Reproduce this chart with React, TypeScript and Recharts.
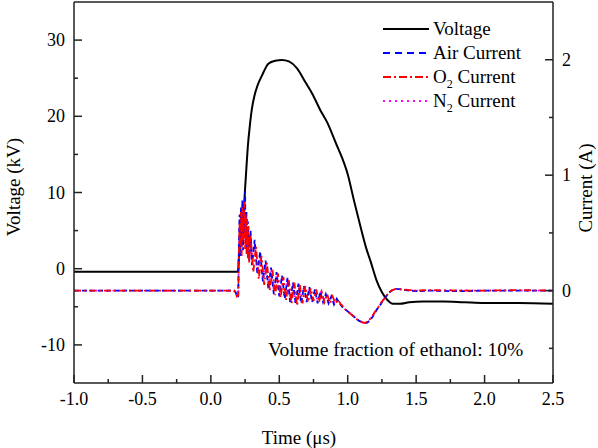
import React from "react";
import { LineChart, Line, XAxis, YAxis, ReferenceLine, Legend } from "recharts";

const FONT = '"Liberation Serif", "Times New Roman", serif';
const AXIS = "#222";

// tick positions (major ones get labels)
const timeTicks = [-1, -0.75, -0.5, -0.25, 0, 0.25, 0.5, 0.75, 1, 1.25, 1.5, 1.75, 2, 2.25, 2.5];
const voltageTicks = [-10, -5, 0, 5, 10, 15, 20, 25, 30];
const currentTicks = [-0.5, 0, 0.5, 1, 1.5, 2];

// [time (us), voltage (kV)]
const voltageKV: [number, number][] = [
  [-1.0, -0.4], [0.19, -0.4], [0.198, -0.4], [0.205, 1.5], [0.22, 4.5], [0.24, 7.5],
  [0.25, 10.5], [0.26, 13.3], [0.27, 16.0], [0.285, 18.8], [0.3, 21.0], [0.32, 22.8],
  [0.34, 24.0], [0.375, 25.4], [0.42, 26.9], [0.47, 27.3], [0.52, 27.4], [0.57, 27.2],
  [0.63, 26.3], [0.69, 24.5], [0.74, 23.0], [0.8, 20.8], [0.85, 19.2], [0.92, 16.2],
  [0.96, 14.5], [1.0, 12.4], [1.045, 9.0], [1.095, 5.4], [1.135, 2.7], [1.17, 0.8],
  [1.21, -1.5], [1.25, -3.1], [1.29, -4.1], [1.33, -4.6], [1.38, -4.6], [1.45, -4.4],
  [1.55, -4.3], [1.7, -4.3], [1.85, -4.4], [2.0, -4.5], [2.25, -4.5], [2.5, -4.6],
];

// [time (us), current (A)]
const airCurrentA: [number, number][] = [
  [-1.0, 0], [0.17, 0], [0.18, -0.01], [0.19, -0.05], [0.2, -0.05],
  [0.205, 0.4], [0.21, 0.66], [0.215, 0.3], [0.22, 0.72], [0.225, 0.42], [0.23, 0.78],
  [0.235, 0.35], [0.24, 0.7], [0.245, 0.5], [0.25, 0.86], [0.255, 0.4], [0.26, 0.68],
  [0.265, 0.32], [0.27, 0.6], [0.28, 0.26], [0.29, 0.52], [0.3, 0.22],
  [0.32, 0.44], [0.34, 0.14], [0.36, 0.34], [0.38, 0.08], [0.4, 0.26], [0.42, 0.02],
  [0.44, 0.2], [0.46, -0.03], [0.48, 0.16], [0.5, -0.05],
  [0.52, 0.13], [0.54, -0.07], [0.56, 0.11], [0.58, -0.1], [0.6, 0.07], [0.62, -0.12],
  [0.64, 0.06], [0.66, -0.11], [0.68, 0.04], [0.7, -0.1],
  [0.72, 0.03], [0.74, -0.1], [0.76, 0.01], [0.78, -0.11], [0.8, -0.01], [0.82, -0.1],
  [0.84, -0.03], [0.86, -0.11], [0.88, -0.05], [0.9, -0.12], [0.92, -0.07], [0.94, -0.11],
  [0.96, -0.14], [0.98, -0.16], [1.0, -0.18], [1.02, -0.2], [1.04, -0.22], [1.06, -0.24],
  [1.08, -0.26], [1.1, -0.27], [1.12, -0.28], [1.14, -0.28], [1.16, -0.26], [1.18, -0.23],
  [1.2, -0.19], [1.22, -0.15], [1.24, -0.12], [1.26, -0.08], [1.28, -0.05], [1.3, -0.02],
  [1.32, 0.0], [1.35, 0.015], [1.4, 0.01], [1.45, 0.0], [1.5, -0.005], [1.6, 0.0],
  [1.8, -0.005], [2.0, 0.0], [2.25, 0.0], [2.5, 0.0],
];

const o2CurrentA: [number, number][] = [
  [-1.0, 0], [0.17, 0], [0.18, -0.02], [0.19, -0.05], [0.2, -0.04],
  [0.205, 0.3], [0.21, 0.58], [0.215, 0.36], [0.22, 0.68], [0.225, 0.3], [0.23, 0.72],
  [0.235, 0.44], [0.24, 0.62], [0.245, 0.77], [0.25, 0.36], [0.255, 0.66], [0.26, 0.32],
  [0.265, 0.62], [0.27, 0.28], [0.275, 0.56], [0.28, 0.24], [0.29, 0.48],
  [0.31, 0.16], [0.33, 0.38], [0.35, 0.1], [0.37, 0.3], [0.39, 0.05], [0.41, 0.24],
  [0.43, 0.0], [0.45, 0.18], [0.47, -0.04], [0.49, 0.15],
  [0.51, -0.06], [0.53, 0.12], [0.55, -0.08], [0.57, 0.09], [0.59, -0.11], [0.61, 0.07],
  [0.63, -0.13], [0.65, 0.05], [0.67, -0.11], [0.69, 0.04],
  [0.71, -0.1], [0.73, 0.02], [0.75, -0.09], [0.77, 0.01], [0.79, -0.1], [0.81, -0.01],
  [0.83, -0.1], [0.85, -0.03], [0.87, -0.11], [0.89, -0.05], [0.91, -0.11], [0.93, -0.08],
  [0.95, -0.12],
  [0.96, -0.13], [0.98, -0.16], [1.0, -0.18], [1.02, -0.2], [1.04, -0.22], [1.06, -0.24],
  [1.08, -0.26], [1.1, -0.27], [1.12, -0.28], [1.14, -0.27], [1.16, -0.25], [1.18, -0.22],
  [1.2, -0.18], [1.22, -0.15], [1.24, -0.11], [1.26, -0.08], [1.28, -0.05], [1.3, -0.02],
  [1.32, 0.0], [1.35, 0.015], [1.4, 0.01], [1.45, 0.005], [1.5, 0.0], [1.6, 0.005],
  [1.8, 0.0], [2.0, 0.0], [2.25, 0.005], [2.5, 0.0],
];

const n2CurrentA: [number, number][] = [
  [-1.0, 0], [0.17, 0], [0.18, -0.01], [0.19, -0.04], [0.2, -0.04],
  [0.205, 0.34], [0.21, 0.55], [0.215, 0.4], [0.22, 0.64], [0.225, 0.38], [0.23, 0.7],
  [0.235, 0.42], [0.24, 0.66], [0.245, 0.45], [0.25, 0.72], [0.255, 0.38], [0.26, 0.6],
  [0.265, 0.34], [0.27, 0.55], [0.28, 0.3], [0.29, 0.46], [0.3, 0.24],
  [0.32, 0.4], [0.34, 0.16], [0.36, 0.3], [0.38, 0.1], [0.4, 0.24], [0.42, 0.04],
  [0.44, 0.18], [0.46, 0.0], [0.48, 0.14], [0.5, -0.04],
  [0.52, 0.12], [0.54, -0.06], [0.56, 0.1], [0.58, -0.08], [0.6, 0.06], [0.62, -0.1],
  [0.64, 0.05], [0.66, -0.1], [0.68, 0.03], [0.7, -0.09],
  [0.72, 0.02], [0.74, -0.09], [0.76, 0.0], [0.78, -0.09], [0.8, -0.02], [0.82, -0.09],
  [0.84, -0.04], [0.86, -0.1], [0.88, -0.06], [0.9, -0.1], [0.92, -0.08], [0.94, -0.11],
  [0.96, -0.13], [0.98, -0.16], [1.0, -0.18], [1.02, -0.2], [1.04, -0.22], [1.06, -0.24],
  [1.08, -0.26], [1.1, -0.27], [1.12, -0.28], [1.14, -0.28], [1.16, -0.26], [1.18, -0.22],
  [1.2, -0.19], [1.22, -0.15], [1.24, -0.12], [1.26, -0.08], [1.28, -0.05], [1.3, -0.02],
  [1.32, 0.0], [1.35, 0.015], [1.4, 0.01], [1.45, 0.005], [1.5, 0.0], [1.6, 0.0],
  [1.8, 0.005], [2.0, 0.0], [2.25, 0.0], [2.5, 0.0],
];

const toRows = (pts: [number, number][]) => pts.map(([t, y]) => ({ t, y }));

const subStyle = { fontSize: 12, lineHeight: 0 };
const legendItems = [
  { label: <>Voltage</>, color: "#000000", dash: undefined },
  { label: <>Air Current</>, color: "#0000ff", dash: "7 5" },
  { label: <>O<sub style={subStyle}>2</sub> Current</>, color: "#ff0000", dash: "8 3 2 3" },
  { label: <>N<sub style={subStyle}>2</sub> Current</>, color: "#ff00ff", dash: "2 4" },
];

const textStyle = { fontFamily: FONT, fill: "#000" };

const XTick = (props: any) => {
  const { x, y, payload } = props;
  const v = payload.value;
  const major = Math.abs(v * 2 - Math.round(v * 2)) < 1e-6;
  return (
    <g>
      <line x1={x} x2={x} y1={y} y2={y - (major ? 8 : 4)} stroke={AXIS} strokeWidth={1.5} />
      {major && (
        <text x={x} y={y + 22} textAnchor="middle" fontSize={18} style={textStyle}>
          {v.toFixed(1)}
        </text>
      )}
    </g>
  );
};

const LeftTick = (props: any) => {
  const { x, y, payload } = props;
  const v = payload.value;
  const major = v % 10 === 0;
  return (
    <g>
      <line x1={x} x2={x + (major ? 8 : 4)} y1={y} y2={y} stroke={AXIS} strokeWidth={1.5} />
      {major && (
        <text x={x - 9} y={y + 6} textAnchor="end" fontSize={18} style={textStyle}>
          {v}
        </text>
      )}
    </g>
  );
};

const RightTick = (props: any) => {
  const { x, y, payload } = props;
  const v = payload.value;
  const major = Number.isInteger(v);
  return (
    <g>
      <line x1={x} x2={x - (major ? 8 : 4)} y1={y} y2={y} stroke={AXIS} strokeWidth={1.5} />
      {major && (
        <text x={x + 9} y={y + 6} textAnchor="start" fontSize={18} style={textStyle}>
          {v}
        </text>
      )}
    </g>
  );
};

const LegendBox = () => (
  <div style={{ fontFamily: FONT, fontSize: 19, color: "#000" }}>
    {legendItems.map((item, i) => (
      <div key={i} style={{ display: "flex", alignItems: "center", height: 24 }}>
        <svg width={46} height={10}>
          <line x1={0} x2={46} y1={5} y2={5} stroke={item.color} strokeWidth={2} strokeDasharray={item.dash} />
        </svg>
        <span style={{ marginLeft: 4, whiteSpace: "nowrap" }}>{item.label}</span>
      </div>
    ))}
  </div>
);

const App = () => {
  const axisLine = { stroke: AXIS, strokeWidth: 1.5 };
  return (
    <div style={{ position: "absolute", left: 0, top: 0, width: 598, height: 448, background: "#fff" }}>
      <LineChart width={598} height={448} margin={{ top: 2, right: 0, bottom: 0, left: 0 }}>
        <XAxis
          dataKey="t"
          type="number"
          domain={[-1, 2.5]}
          ticks={timeTicks}
          interval={0}
          tickSize={0}
          tickMargin={0}
          tick={XTick}
          height={65}
          axisLine={axisLine}
          allowDataOverflow
          label={() => (
            <text x={299} y={437} textAnchor="middle" dominantBaseline="central" fontSize={19} style={textStyle}>
              Time (μs)
            </text>
          )}
        />
        <YAxis
          yAxisId="v"
          type="number"
          domain={[-15, 35]}
          ticks={voltageTicks}
          interval={0}
          tickSize={0}
          tickMargin={0}
          tick={LeftTick}
          width={74}
          axisLine={axisLine}
          allowDataOverflow
          label={() => (
            <text x={13} y={187} transform="rotate(-90 13 187)" textAnchor="middle" dominantBaseline="central" fontSize={19} style={textStyle}>
              Voltage (kV)
            </text>
          )}
        />
        <YAxis
          yAxisId="i"
          orientation="right"
          type="number"
          domain={[-0.8, 2.5]}
          ticks={currentTicks}
          interval={0}
          tickSize={0}
          tickMargin={0}
          tick={RightTick}
          width={45}
          axisLine={axisLine}
          allowDataOverflow
          label={() => (
            <text x={585} y={188} transform="rotate(-90 585 188)" textAnchor="middle" dominantBaseline="central" fontSize={19} style={textStyle}>
              Current (A)
            </text>
          )}
        />
        <ReferenceLine yAxisId="v" y={35} stroke={AXIS} strokeWidth={1.5} />
        <Legend
          layout="vertical"
          align="center"
          verticalAlign="middle"
          content={LegendBox}
          wrapperStyle={{ left: 383, top: 17, width: 210 }}
        />
        <Line
          data={toRows(voltageKV)}
          dataKey="y"
          yAxisId="v"
          type="monotone"
          stroke="#000"
          strokeWidth={2}
          dot={false}
          isAnimationActive={false}
        />
        <Line
          data={toRows(n2CurrentA)}
          dataKey="y"
          yAxisId="i"
          type="linear"
          stroke="#ff00ff"
          strokeWidth={1.8}
          strokeDasharray="1.5 4"
          dot={false}
          isAnimationActive={false}
        />
        <Line
          data={toRows(airCurrentA)}
          dataKey="y"
          yAxisId="i"
          type="linear"
          stroke="#0000ff"
          strokeWidth={1.8}
          strokeDasharray="5 3"
          dot={false}
          isAnimationActive={false}
        />
        <Line
          data={toRows(o2CurrentA)}
          dataKey="y"
          yAxisId="i"
          type="linear"
          stroke="#ff0000"
          strokeWidth={1.8}
          strokeDasharray="7 3 2 3"
          dot={false}
          isAnimationActive={false}
        />
      </LineChart>
      <div
        style={{
          position: "absolute",
          left: 268,
          top: 339,
          fontFamily: FONT,
          fontSize: 19.5,
          lineHeight: "22px",
          color: "#000",
          whiteSpace: "nowrap",
        }}
      >
        Volume fraction of ethanol: 10%
      </div>
    </div>
  );
};

export default App;
